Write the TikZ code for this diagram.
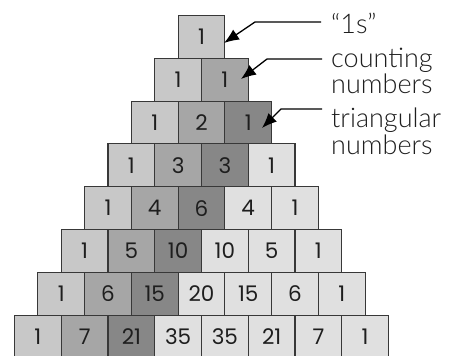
\documentclass[tikz,border=0pt]{standalone}
\usepackage{fontspec}
\setmainfont{Poppins}
\newfontfamily\labfont{Lato Light}
\usetikzlibrary{arrows.meta}
\definecolor{cA}{HTML}{C8C8C8}
\definecolor{cB}{HTML}{A6A6A6}
\definecolor{cC}{HTML}{878787}
\definecolor{cD}{HTML}{E0E0E0}
\definecolor{edge}{HTML}{383838}
\definecolor{txt}{HTML}{1E1E1E}
\begin{document}
\begin{tikzpicture}[x=1pt,y=-1pt,
  cell/.style={draw=edge, line width=1.1pt, minimum width=46.75pt, minimum height=42.8pt,
    inner sep=0pt, font=\fontsize{21.5}{21.5}\selectfont, text=txt},
  lab/.style={anchor=base west, inner sep=0pt, text=txt,
    font=\labfont\fontsize{27}{27}\selectfont},
  arr/.style={draw=black, line width=1.3pt, -{Latex[length=15pt,width=12pt]}}]
\useasboundingbox (0,0) rectangle (464,356);
\foreach \vals [count=\r from 0] in {{1},{1,1},{1,2,1},{1,3,3,1},{1,4,6,4,1},{1,5,10,10,5,1},{1,6,15,20,15,6,1},{1,7,21,35,35,21,7,1}}{
  \foreach \v [count=\k from 0] in \vals {
    \ifcase\k \def\cc{cA}\or\def\cc{cB}\or\def\cc{cC}\else\def\cc{cD}\fi
    \node[cell, fill=\cc] (c-\r-\k) at ({201.5-\r*23.375+\k*46.75},{36.9+42.8*\r}) {\v};
  }
}
\node[lab] (l1) at (331,33) {“1s”};
\node[lab] (l2a) at (331,67) {counting};
\node[lab] (l2b) at (331,93) {numbers};
\node[lab] (l3a) at (331,127) {triangular};
\node[lab] (l3b) at (331,154) {numbers};
\coordinate (s1) at (321,22);
\coordinate (b1) at (255,22);
\coordinate (t1) at (224,43);
\coordinate (s2) at (322,59);
\coordinate (b2) at (267,59);
\coordinate (t2) at (241,79);
\coordinate (s3) at (322,109);
\coordinate (b3) at (281,109);
\coordinate (t3) at (262,128);
\draw[arr] (s1) -- (b1) -- (t1);
\draw[arr] (s2) -- (b2) -- (t2);
\draw[arr] (s3) -- (b3) -- (t3);
\end{tikzpicture}
\end{document}
